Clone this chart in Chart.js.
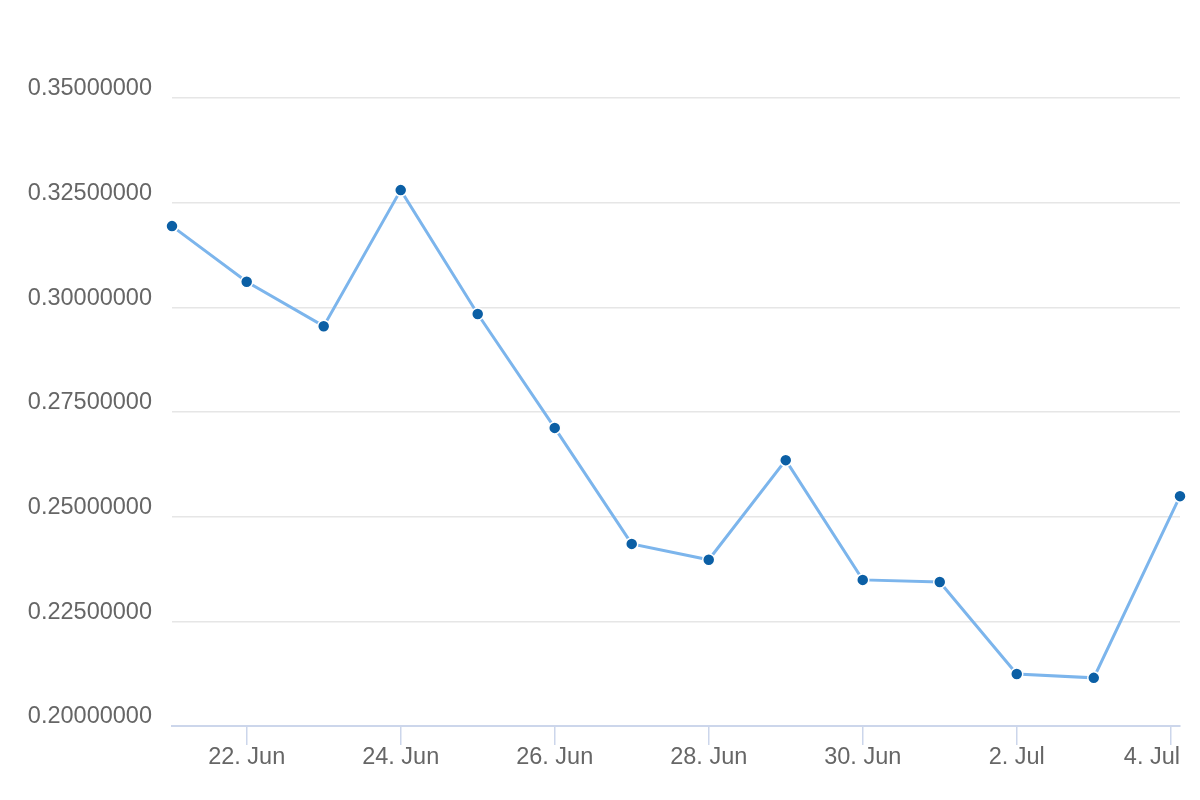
<!DOCTYPE html>
<html>
<head>
<meta charset="utf-8">
<script src="https://cdn.jsdelivr.net/npm/chart.js@4/dist/chart.umd.min.js"></script>
<style>
  html, body { margin: 0; padding: 0; background: #ffffff; }
  #wrap { width: 1200px; height: 800px; position: relative; }
</style>
</head>
<body>
<div id="wrap"><canvas id="c" width="1200" height="800"></canvas></div>
<script>
// Days since 21 Jun (x positions of observations)
const dayOffsets = [0.03, 1, 2, 3, 4, 5, 6, 7, 8, 9, 10, 11, 12, 13.12];
const values = [0.3194, 0.3061, 0.2955, 0.3280, 0.2984, 0.2712, 0.2435, 0.2397, 0.2635, 0.2349, 0.2344, 0.2124, 0.2115, 0.2549];
const tickDays = [1, 3, 5, 7, 9, 11, 13];
const tickLabels = ['22. Jun', '24. Jun', '26. Jun', '28. Jun', '30. Jun', '2. Jul', '4. Jul'];
const yTicks = [0.2, 0.225, 0.25, 0.275, 0.3, 0.325, 0.35];

const points = dayOffsets.map((d, i) => ({ x: d, y: values[i] }));
const font = { family: '"Liberation Sans", Arial, sans-serif', size: 23.5 };

// Keeps the x-axis labels inside the plot width (the last one is pulled left).
const edgeLabels = {
  id: 'edgeLabels',
  afterDraw(chart) {
    const xs = chart.scales.x;
    const ctx = chart.ctx;
    ctx.save();
    ctx.font = font.size + 'px ' + font.family;
    ctx.fillStyle = '#666666';
    ctx.textBaseline = 'middle';
    ctx.textAlign = 'left';
    tickDays.forEach((d, i) => {
      const label = tickLabels[i];
      const w = ctx.measureText(label).width;
      let left = xs.getPixelForValue(d) - w / 2;
      if (left + w > chart.chartArea.right) left = chart.chartArea.right - w;
      ctx.fillText(label, left, chart.chartArea.bottom + 32);
    });
    ctx.restore();
  }
};

new Chart(document.getElementById('c'), {
  type: 'line',
  data: {
    datasets: [{
      data: points,
      borderColor: '#7cb5ec',
      borderWidth: 3,
      pointBackgroundColor: '#0b5fa5',
      pointBorderColor: '#ffffff',
      pointBorderWidth: 1.5,
      pointRadius: 6,
      tension: 0,
      clip: false
    }]
  },
  options: {
    responsive: false,
    animation: false,
    layout: { padding: { top: 98, right: 20, left: 0, bottom: 0 } },
    plugins: { legend: { display: false }, tooltip: { enabled: false } },
    scales: {
      x: {
        type: 'linear',
        min: dayOffsets[0],
        max: dayOffsets[dayOffsets.length - 1],
        afterBuildTicks: (scale) => { scale.ticks = tickDays.map(v => ({ value: v })); },
        afterFit: (scale) => { scale.height = 74; },
        ticks: {
          autoSkip: false,
          maxRotation: 0,
          color: '#666666',
          font: font,
          padding: -2,
          callback: () => ''
        },
        grid: { drawOnChartArea: false, drawTicks: true, tickLength: 19, color: '#ccd6eb', lineWidth: 1.5 },
        border: { display: true, color: '#ccd6eb', width: 2 }
      },
      y: {
        min: 0.2,
        max: 0.35,
        afterBuildTicks: (scale) => { scale.ticks = yTicks.map(v => ({ value: v })); },
        afterFit: (scale) => { scale.width = 172; },
        ticks: {
          color: '#666666',
          font: font,
          padding: 20,
          labelOffset: -9,
          callback: (v) => Number(v).toFixed(8)
        },
        grid: { drawTicks: false, color: '#e6e6e6', lineWidth: 1.5 },
        border: { display: false }
      }
    }
  },
  plugins: [edgeLabels]
});
</script>
</body>
</html>
